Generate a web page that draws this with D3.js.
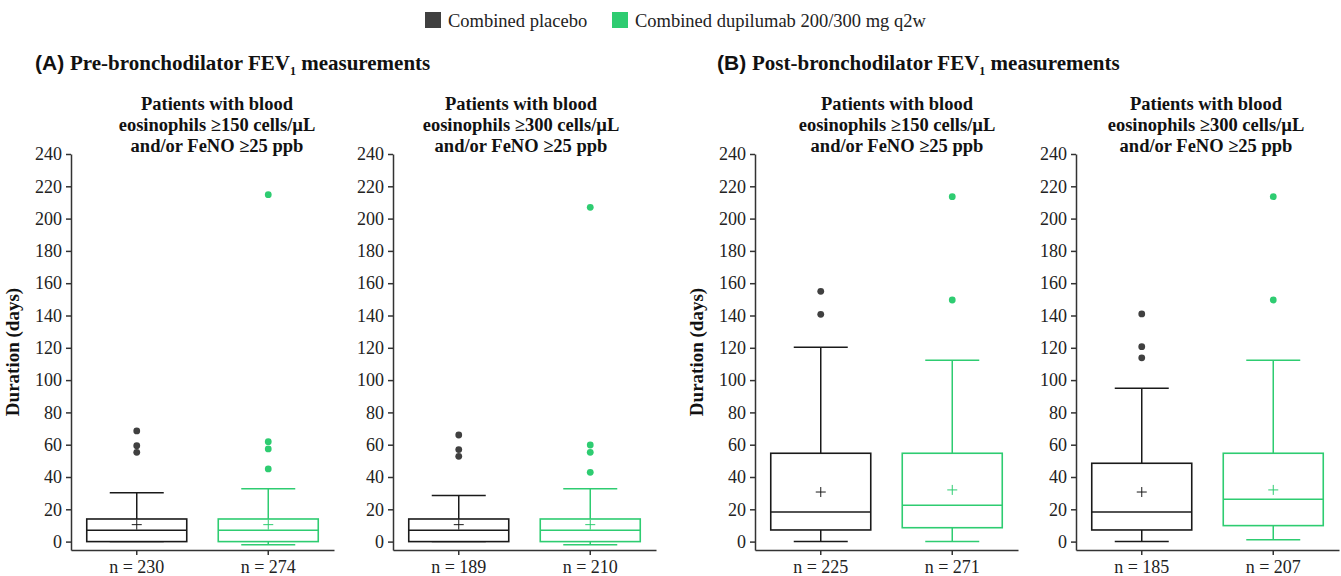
<!DOCTYPE html>
<html>
<head>
<meta charset="utf-8">
<script src="https://cdn.jsdelivr.net/npm/d3@7"></script>
<style>
  body { margin: 0; background: #fff; }
  svg { display: block; }
</style>
</head>
<body>
<script>
// groups and per-panel summary stats (days)
var groups = ["Combined placebo", "Combined dupilumab 200/300 mg q2w"];
var colors = ["#404040", "#2ecc71"];
var boxStroke = ["#1a1a1a", "#2ecc71"];

var nCounts     = [[230, 274], [189, 210], [225, 271], [185, 207]];
var lowWhisker  = [[0, -2], [0, -2], [0, 0], [0, 1.2]];
var q1          = [[0, 0], [0, 0], [7.2, 8.6], [7.2, 9.9]];
var medians     = [[7, 7], [7, 7], [18.4, 22.5], [18.4, 26.3]];
var q3          = [[14, 14], [14, 14], [54.7, 54.7], [48.5, 54.7]];
var highWhisker = [[30.3, 32.8], [28.5, 32.8], [120.4, 112.3], [95, 112.3]];
var means       = [[10.5, 10.5], [10.5, 10.5], [30.7, 32], [30.7, 32]];
var outliers = [
  [[68.5, 59.4, 55.3], [214.8, 61.9, 57.4, 45]],
  [[66, 57, 52.8], [207, 59.8, 55.3, 42.9]],
  [[155, 140.7], [213.6, 149.6]],
  [[141, 120.7, 113.8], [213.6, 149.6]]
];
var yTicks = [0, 20, 40, 60, 80, 100, 120, 140, 160, 180, 200, 220, 240];

var subtitles = [
  ["Patients with blood", "eosinophils \u2265150 cells/\u00b5L", "and/or FeNO \u226525 ppb"],
  ["Patients with blood", "eosinophils \u2265300 cells/\u00b5L", "and/or FeNO \u226525 ppb"],
  ["Patients with blood", "eosinophils \u2265150 cells/\u00b5L", "and/or FeNO \u226525 ppb"],
  ["Patients with blood", "eosinophils \u2265300 cells/\u00b5L", "and/or FeNO \u226525 ppb"]
];
var sections = [["(A)", "Pre-bronchodilator FEV"], ["(B)", "Post-bronchodilator FEV"]];

// layout
var panelLeft = [71, 393, 755, 1076];
var subCenter = [217, 521, 897, 1206];
var plotW = 263;
var serif = "'Liberation Serif', 'Times New Roman', serif";

var svg = d3.select("body").append("svg")
  .attr("width", 1341).attr("height", 576);

var y = d3.scaleLinear().domain([-5.2, 240]).range([550, 154]);

// legend
var legend = svg.append("g").attr("font-family", serif).attr("font-size", 18.5);
var legX = [425, 612];
groups.forEach(function(g, j) {
  legend.append("rect").attr("x", legX[j]).attr("y", 12)
    .attr("width", 16).attr("height", 16).attr("fill", colors[j]);
  legend.append("text").attr("x", legX[j] + 23).attr("y", 26.5)
    .attr("fill", "#222").text(g);
});

// section titles
[35, 717].forEach(function(tx, s) {
  var t = svg.append("text").attr("x", tx).attr("y", 70)
    .attr("font-size", 21).attr("font-weight", "bold").attr("fill", "#111");
  t.append("tspan").attr("font-family", "'Liberation Sans', Arial, sans-serif").text(sections[s][0] + " ");
  t.append("tspan").attr("font-family", serif).text(sections[s][1]);
  t.append("tspan").attr("font-family", serif).attr("font-size", 12).attr("dy", 5).text("1");
  t.append("tspan").attr("font-family", serif).attr("dy", -5).text(" measurements");
});

panelLeft.forEach(function(L, i) {
  var g = svg.append("g");
  var x = d3.scaleBand().domain(groups).range([L, L + plotW]);

  // subtitle
  var st = g.append("text").attr("font-family", serif).attr("font-size", 18.5)
    .attr("font-weight", "bold").attr("text-anchor", "middle").attr("fill", "#111");
  subtitles[i].forEach(function(line, k) {
    st.append("tspan").attr("x", subCenter[i]).attr("y", 110 + k * 21).text(line);
  });

  // y axis
  var ya = g.append("g").attr("transform", "translate(" + L + ",0)")
    .call(d3.axisLeft(y).tickValues(yTicks).tickSize(5).tickSizeOuter(0).tickPadding(4));
  ya.selectAll("text").attr("font-family", serif).attr("font-size", 18).attr("fill", "#222");

  // x axis
  var xa = g.append("g").attr("transform", "translate(0,550)")
    .call(d3.axisBottom(x).tickSize(5).tickSizeOuter(0).tickPadding(5)
      .tickFormat(function(d, j) { return "n = " + nCounts[i][j]; }));
  xa.selectAll("text").attr("font-family", serif).attr("font-size", 18).attr("fill", "#222");

  [ya, xa].forEach(function(a) {
    a.selectAll("path, line").attr("stroke", "#333").attr("stroke-width", 1.5);
  });

  if (i == 0 || i == 2) {
    g.append("text").attr("transform", "translate(" + (L - 52) + ",352) rotate(-90)")
      .attr("text-anchor", "middle").attr("font-family", serif).attr("font-size", 19)
      .attr("font-weight", "bold").attr("fill", "#111").text("Duration (days)");
  }

  groups.forEach(function(grp, j) {
    var cx = x(grp) + x.bandwidth() / 2;
    var col = boxStroke[j];
    var b = g.append("g").attr("stroke", col).attr("fill", "none");

    // whiskers
    b.append("line").attr("x1", cx).attr("x2", cx)
      .attr("y1", y(q3[i][j])).attr("y2", y(highWhisker[i][j])).attr("stroke-width", 1.5);
    b.append("line").attr("x1", cx).attr("x2", cx)
      .attr("y1", y(q1[i][j])).attr("y2", y(lowWhisker[i][j])).attr("stroke-width", 1.5);
    [highWhisker[i][j], lowWhisker[i][j]].forEach(function(v) {
      b.append("line").attr("x1", cx - 27).attr("x2", cx + 27)
        .attr("y1", y(v)).attr("y2", y(v)).attr("stroke-width", 1.5);
    });

    // box + median
    b.append("rect").attr("x", cx - 50).attr("width", 100)
      .attr("y", y(q3[i][j])).attr("height", y(q1[i][j]) - y(q3[i][j]))
      .attr("fill", "#fff").attr("stroke-width", 1.6);
    b.append("line").attr("x1", cx - 50).attr("x2", cx + 50)
      .attr("y1", y(medians[i][j])).attr("y2", y(medians[i][j])).attr("stroke-width", 1.5);

    // mean marker
    var my = y(means[i][j]);
    b.append("line").attr("x1", cx - 5).attr("x2", cx + 5).attr("y1", my).attr("y2", my).attr("stroke-width", 1);
    b.append("line").attr("x1", cx).attr("x2", cx).attr("y1", my - 5).attr("y2", my + 5).attr("stroke-width", 1);

    // outliers
    g.selectAll(null).data(outliers[i][j]).enter().append("circle")
      .attr("cx", cx).attr("cy", function(d) { return y(d); })
      .attr("r", 3.4).attr("fill", colors[j]);
  });
});
</script>
</body>
</html>
